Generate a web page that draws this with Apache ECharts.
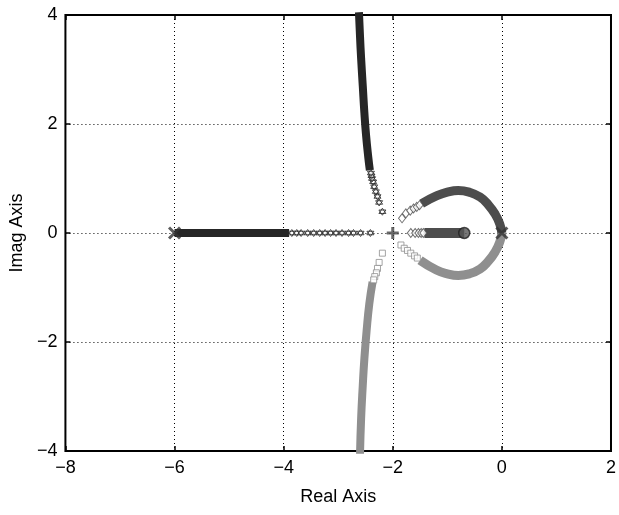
<!DOCTYPE html>
<html>
<head>
<meta charset="utf-8">
<script src="https://cdn.jsdelivr.net/npm/echarts@6/dist/echarts.min.js"></script>
<style>
  html, body { margin: 0; padding: 0; background: #fff; }
  #chart { width: 619px; height: 515px; }
</style>
</head>
<body>
<div id="chart"></div>
<script>
// root locus
var xTicks = [-8, -6, -4, -2, 0, 2]
var yTicks = [-4, -2, 0, 2, 4]

var poles = [[-6, 0], [0, 0]]
var zeros = [[-0.69, 0]]
var plusPt = [[-2, 0]]

// hexagram branch (dark): real axis + upper asymptote
var starRealBar = [[-6, 0], [-3.9, 0]]
var starRealPts = [[-3.85, 0], [-3.76, 0], [-3.68, 0], [-3.56, 0], [-3.45, 0], [-3.34, 0], [-3.24, 0], [-3.14, 0],
                   [-3.04, 0], [-2.93, 0], [-2.81, 0], [-2.72, 0], [-2.59, 0], [-2.41, 0]]
var starUpBar = [[-2.42, 1.15], [-2.45, 1.4], [-2.49, 1.8], [-2.52, 2.2], [-2.55, 2.7],
                 [-2.58, 3.2], [-2.6, 3.6], [-2.62, 4.05]]
var starUpPts = [[-2.19, 0.39], [-2.25, 0.56], [-2.28, 0.67], [-2.31, 0.76], [-2.34, 0.85],
                 [-2.36, 0.94], [-2.38, 1.0], [-2.39, 1.05], [-2.4, 1.1]]

// diamond branch (dark grey): upper arc + real axis
var diaArc = [[-1.47, 0.54], [-1.2, 0.68], [-1.0, 0.75], [-0.8, 0.78], [-0.6, 0.75],
              [-0.4, 0.66], [-0.25, 0.52], [-0.12, 0.34], [-0.04, 0.17], [0, 0]]
var diaArcPts = [[-1.83, 0.27], [-1.76, 0.36], [-1.68, 0.41], [-1.62, 0.45], [-1.56, 0.48], [-1.51, 0.51]]
var diaRealBar = [[-1.42, 0], [-0.69, 0]]
var diaRealPts = [[-1.67, 0], [-1.59, 0], [-1.53, 0], [-1.48, 0], [-1.44, 0]]

// square branch (light grey): lower arc + lower asymptote
var sqArc = [[-1.5, -0.5], [-1.2, -0.68], [-1.0, -0.75], [-0.8, -0.78], [-0.6, -0.75],
             [-0.4, -0.66], [-0.25, -0.52], [-0.12, -0.34], [-0.04, -0.17], [0, 0]]
var sqArcPts = [[-1.85, -0.22], [-1.79, -0.28], [-1.73, -0.32], [-1.67, -0.37], [-1.6, -0.42], [-1.55, -0.46]]
var sqDownBar = [[-2.37, -0.9], [-2.43, -1.3], [-2.48, -1.8], [-2.52, -2.3], [-2.55, -2.8],
                 [-2.58, -3.4], [-2.6, -4.05]]
var sqDownPts = [[-2.19, -0.37], [-2.25, -0.54], [-2.28, -0.65], [-2.3, -0.73], [-2.33, -0.8], [-2.35, -0.86]]

var hexagram = 'path://M5,0L9.33,7.5L0.67,7.5ZM5,10L0.67,2.5L9.33,2.5Z'
var crossX = 'path://M0,0L10,10M0,10L10,0'
var crossPlus = 'path://M5,0L5,10M0,5L10,5'

var dark = '#262626'
var mid = '#4d4d4d'
var light = '#8f8f8f'
var font = 'Liberation Sans'

function fmt(v) { return String(v).replace('-', '\u2212') }

function bar(data, color, width, smooth) {
    return {
        type: 'line', data: data, symbol: 'none', smooth: smooth || false,
        lineStyle: { color: color, width: width, cap: 'butt' }, z: 2, silent: true
    }
}
function pts(data, symbol, size, color) {
    return {
        type: 'scatter', data: data, symbol: symbol, symbolSize: size,
        itemStyle: { color: '#fff', borderColor: color, borderWidth: 1 }, z: 3, silent: true
    }
}

var tick = { inside: true, length: 5, lineStyle: { color: '#000', width: 1.5 } }
var grid_line = { show: true, lineStyle: { color: '#000', width: 1, type: [1, 3] } }

var chart = echarts.init(document.getElementById('chart'))
var option = {
    animation: false,
    grid: { left: 63, right: 4, top: 15, bottom: 64, show: true, borderColor: '#000', borderWidth: 2 },
    xAxis: [
        {
            type: 'value', min: -8, max: 2, interval: 2, position: 'bottom',
            name: 'Real Axis', nameLocation: 'middle', nameGap: 37,
            nameTextStyle: { color: '#000', fontSize: 18, fontFamily: font },
            axisLine: { show: false, onZero: false },
            axisTick: tick,
            axisLabel: { color: '#000', fontSize: 18, fontFamily: font, margin: 8, formatter: fmt },
            splitLine: grid_line
        },
        {
            type: 'value', min: -8, max: 2, interval: 2, position: 'top',
            axisLine: { show: false, onZero: false }, axisLabel: { show: false }, splitLine: { show: false },
            axisTick: tick
        }
    ],
    yAxis: [
        {
            type: 'value', min: -4, max: 4, interval: 2, position: 'left',
            name: 'Imag Axis', nameLocation: 'middle', nameGap: 37,
            nameTextStyle: { color: '#000', fontSize: 18, fontFamily: font },
            axisLine: { show: false, onZero: false },
            axisTick: tick,
            axisLabel: { color: '#000', fontSize: 18, fontFamily: font, margin: 8, formatter: fmt },
            splitLine: grid_line
        },
        {
            type: 'value', min: -4, max: 4, interval: 2, position: 'right',
            axisLine: { show: false, onZero: false }, axisLabel: { show: false }, splitLine: { show: false },
            axisTick: tick
        }
    ],
    series: [
        bar(starRealBar, dark, 8),
        pts(starRealPts, hexagram, 7, dark),
        bar(starUpBar, dark, 8, true),
        pts(starUpPts, hexagram, 7, dark),

        bar(sqArc, light, 9, true),
        pts(sqArcPts, 'rect', 6, light),
        bar(sqDownBar, light, 8, true),
        pts(sqDownPts, 'rect', 6, light),

        bar(diaArc, mid, 9, true),
        pts(diaArcPts, 'diamond', [7, 9], mid),
        bar(diaRealBar, mid, 10),
        pts(diaRealPts, 'diamond', [7, 9], mid),

        {
            type: 'scatter', data: zeros, symbol: 'circle', symbolSize: 11, z: 5,
            itemStyle: { color: '#555', borderColor: '#222', borderWidth: 1.5 }
        },
        {
            type: 'scatter', data: poles, symbol: crossX, symbolSize: 11, z: 6,
            itemStyle: { color: 'rgba(0,0,0,0)', borderColor: '#333', borderWidth: 3 }
        },
        {
            type: 'scatter', data: plusPt, symbol: crossPlus, symbolSize: 12, z: 6,
            itemStyle: { color: 'rgba(0,0,0,0)', borderColor: '#444', borderWidth: 3 }
        }
    ]
}
chart.setOption(option)
</script>
</body>
</html>
